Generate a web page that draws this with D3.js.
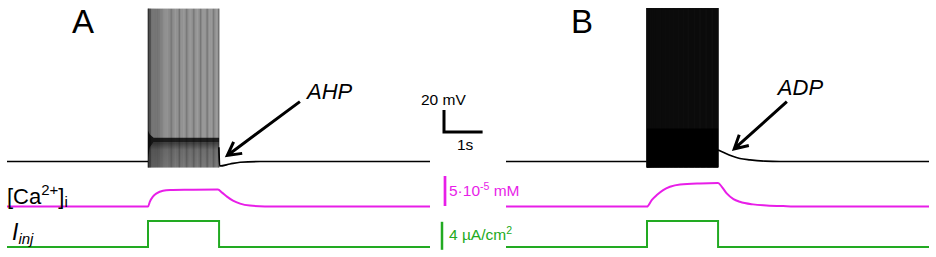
<!DOCTYPE html>
<html>
<head>
<meta charset="utf-8">
<script src="https://cdn.jsdelivr.net/npm/d3@7"></script>
<style>
  body { margin: 0; background: #fff; }
  svg { display: block; }
  text { font-family: "Liberation Sans", Arial, sans-serif; }
</style>
</head>
<body>
<div id="chart"></div>
<script>
// ---- data (time in s, voltage in mV, Ca in 1e-5 mM, current in uA/cm2) ----
const timeEnd = 11.25;
const stimWindow = [3.75, 5.64];
const iinjLevels = [0, 3.7];
const restMv = -65;

const spikeTimesA = [3.752, 3.761, 3.772, 3.785, 3.800, 3.817, 3.836, 3.857, 3.879, 3.902,
  3.926, 3.951, 3.977, 4.003, 4.030, 4.057, 4.085, 4.113, 4.141, 4.170, 4.199, 4.228, 4.257,
  4.287, 4.316, 4.346, 4.376, 4.406, 4.436, 4.466, 4.497, 4.527, 4.558, 4.588, 4.619, 4.650,
  4.680, 4.711, 4.742, 4.773, 4.804, 4.835, 4.866, 4.897, 4.928, 4.959, 4.990, 5.021, 5.052,
  5.084, 5.115, 5.146, 5.177, 5.209, 5.240, 5.271, 5.303, 5.334, 5.365, 5.397, 5.428, 5.460,
  5.491, 5.523, 5.554, 5.586, 5.617, 5.638];
const spikeTimesB = [3.751, 3.758, 3.767, 3.778, 3.790, 3.803, 3.817, 3.832, 3.848, 3.864,
  3.881, 3.898, 3.916, 3.934, 3.952, 3.971, 3.990, 4.009, 4.029, 4.048, 4.068, 4.088, 4.108,
  4.128, 4.149, 4.169, 4.190, 4.211, 4.232, 4.253, 4.274, 4.295, 4.316, 4.338, 4.359, 4.381,
  4.402, 4.424, 4.446, 4.467, 4.489, 4.511, 4.533, 4.555, 4.577, 4.599, 4.621, 4.643, 4.665,
  4.688, 4.710, 4.732, 4.754, 4.777, 4.799, 4.821, 4.844, 4.866, 4.889, 4.911, 4.934, 4.956,
  4.979, 5.001, 5.024, 5.047, 5.069, 5.092, 5.115, 5.137, 5.160, 5.183, 5.206, 5.228, 5.251,
  5.274, 5.297, 5.320, 5.343, 5.366, 5.388, 5.411, 5.434, 5.457, 5.480, 5.503, 5.526, 5.549,
  5.572, 5.595, 5.618, 5.638];
const spikePeakMv = [74, 74.5];
const spikeTroughMv = [-70.5, -70.5];

// interspike voltage band: [t, top, coreBottom]
const isiBandA = [[3.75, -37, -63], [3.80, -40.5, -52], [3.90, -43.4, -47.5], [5.64, -43.4, -47.5]];
const isiBandB = [[3.75, -35, -70.5], [5.64, -35, -70.5]];

const vRecoveryA = [[5.635, -52], [5.655, -69.1], [5.93, -67.3], [6.2, -65.7], [6.73, -65], [timeEnd, -65]];
const vRecoveryB = [[5.64, -54.5], [5.82, -57.3], [6.01, -60], [6.22, -62.3], [6.49, -63.6],
  [6.89, -64.7], [7.29, -65], [timeEnd, -65]];

const caA = [[0, 1], [3.75, 1], [3.80, 1.83], [3.88, 2.67], [3.99, 3.25], [4.15, 3.63], [4.34, 3.75],
  [4.73, 3.8], [5.61, 3.83], [5.72, 3.33], [5.85, 2.67], [6.01, 2.0], [6.2, 1.5], [6.46, 1.17],
  [6.86, 1.03], [7.53, 1], [timeEnd, 1]];
const caB = [[0, 1], [3.75, 1], [3.875, 2.08], [4.01, 2.92], [4.18, 3.75], [4.36, 4.3], [4.63, 4.7],
  [5.16, 4.87], [5.64, 4.92], [5.74, 4.3], [5.87, 3.2], [6.05, 2.25], [6.22, 1.8], [6.57, 1.37],
  [6.93, 1.2], [7.37, 1.08], [7.82, 1], [timeEnd, 1]];

const panelNames = ['A', 'B'];
const eventNames = ['AHP', 'ADP'];
// arrows: [tailT, tailV, tipT, tipV]
const eventArrows = [[7.79, -10.6, 5.86, -59.5], [7.47, -10.6, 6.07, -53.5]];
const eventLabelPos = [[7.98, -8.2], [7.23, -4.5]];

const scaleBarV = 20, scaleBarT = 1, scaleBarCa = 5, scaleBarI = 4;

// ---- layout ----
const width = 936, height = 257;
const panelRanges = [[7, 430], [506, 929]];
const magenta = '#e81ee8', green = '#22aa22';

const svg = d3.select('#chart').append('svg')
  .attr('width', width).attr('height', height);

const defs = svg.append('defs');
const grad = defs.append('linearGradient').attr('id', 'fade')
  .attr('x1', 0).attr('y1', 0).attr('x2', 0).attr('y2', 1);
grad.append('stop').attr('offset', '0%').attr('stop-color', '#000').attr('stop-opacity', 0.6);
grad.append('stop').attr('offset', '30%').attr('stop-color', '#000').attr('stop-opacity', 0.28);
grad.append('stop').attr('offset', '100%').attr('stop-color', '#000').attr('stop-opacity', 0.2);

const yV = d3.scaleLinear().domain([restMv, 74]).range([161.5, 8.6]);
const yCa = d3.scaleLinear().domain([1, 6]).range([206.6, 176.6]);
const yI = d3.scaleLinear().domain([0, 4]).range([247, 219]);

panelNames.forEach((name, p) => {
  const x = d3.scaleLinear().domain([0, timeEnd]).range(panelRanges[p]);
  const g = svg.append('g');
  const spikes = p === 0 ? spikeTimesA : spikeTimesB;
  const band = p === 0 ? isiBandA : isiBandB;
  const recovery = p === 0 ? vRecoveryA : vRecoveryB;
  const ca = p === 0 ? caA : caB;

  // resting voltage before stimulus
  g.append('path')
    .attr('d', d3.line()([[x(0), yV(restMv)], [x(stimWindow[0]), yV(restMv)]]))
    .attr('stroke', '#000').attr('stroke-width', 1.7).attr('fill', 'none');

  // spikes
  g.selectAll('line.spike').data(spikes).enter().append('line')
    .attr('class', 'spike')
    .attr('x1', d => x(d)).attr('x2', d => x(d))
    .attr('y1', yV(spikeTroughMv[p])).attr('y2', yV(spikePeakMv[p]))
    .attr('stroke', p === 0 ? '#000' : '#0c0c0c')
    .attr('stroke-width', p === 0 ? 0.55 : 1.6);

  // burst: interspike band
  if (p === 0) {
    g.append('path')
      .attr('d', d3.area().x(d => x(d[0])).y0(d => yV(d[2])).y1(yV(spikeTroughMv[p]))(band))
      .attr('fill', 'url(#fade)');
    g.append('path')
      .attr('d', d3.area().x(d => x(d[0])).y0(d => yV(d[1])).y1(d => yV(d[2]))(band))
      .attr('fill', '#000').attr('fill-opacity', 0.8);
  } else {
    g.append('path')
      .attr('d', d3.area().x(d => x(d[0])).y0(d => yV(d[1])).y1(d => yV(d[2]))(band))
      .attr('fill', '#000');
  }

  // after-burst potential
  g.append('path')
    .attr('d', d3.line().x(d => x(d[0])).y(d => yV(d[1])).curve(d3.curveMonotoneX)(recovery))
    .attr('stroke', '#000').attr('stroke-width', 1.7).attr('fill', 'none');

  // calcium
  g.append('path')
    .attr('d', d3.line().x(d => x(d[0])).y(d => yCa(d[1])).curve(d3.curveMonotoneX)(ca))
    .attr('stroke', magenta).attr('stroke-width', 2).attr('fill', 'none');

  // injected current
  const iPts = [[0, iinjLevels[0]], [stimWindow[0], iinjLevels[0]], [stimWindow[0], iinjLevels[1]],
    [stimWindow[1], iinjLevels[1]], [stimWindow[1], iinjLevels[0]], [timeEnd, iinjLevels[0]]];
  g.append('path')
    .attr('d', d3.line().x(d => x(d[0])).y(d => yI(d[1]))(iPts))
    .attr('stroke', green).attr('stroke-width', 2).attr('fill', 'none');

  // panel letter
  g.append('text').attr('x', x(0) + 65).attr('y', 33)
    .attr('font-size', 33).text(name);

  // event arrow + label
  const a = eventArrows[p];
  const x0 = x(a[0]), y0 = yV(a[1]), x1 = x(a[2]), y1 = yV(a[3]);
  const ang = Math.atan2(y1 - y0, x1 - x0);
  const wing = 15, spread = 0.5;
  g.append('path')
    .attr('d', `M${x0},${y0}L${x1},${y1}` +
      `M${x1 - wing * Math.cos(ang - spread)},${y1 - wing * Math.sin(ang - spread)}L${x1},${y1}` +
      `L${x1 - wing * Math.cos(ang + spread)},${y1 - wing * Math.sin(ang + spread)}`)
    .attr('stroke', '#000').attr('stroke-width', 3).attr('fill', 'none');
  g.append('text').attr('x', x(eventLabelPos[p][0])).attr('y', yV(eventLabelPos[p][1]))
    .attr('font-size', 22).attr('font-style', 'italic').text(eventNames[p]);
});

// ---- trace labels ----
const caLabel = svg.append('text').attr('x', 7).attr('y', 204).attr('font-size', 22);
caLabel.append('tspan').text('[Ca');
caLabel.append('tspan').attr('font-size', 15).attr('dy', -9).text('2+');
caLabel.append('tspan').attr('dy', 9).text(']');
caLabel.append('tspan').attr('font-size', 15).attr('dy', 3).text('i');

const iLabel = svg.append('text').attr('x', 12).attr('y', 240).attr('font-size', 23).attr('font-style', 'italic');
iLabel.append('tspan').text('I');
iLabel.append('tspan').attr('font-size', 15).attr('dy', 4).text('inj');

// ---- scale bars ----
const xScaleRef = d3.scaleLinear().domain([0, timeEnd]).range(panelRanges[0]);
const barX = 444;
const barLen = xScaleRef(scaleBarT) - xScaleRef(0);
const vBottom = -38.2;
svg.append('path')
  .attr('d', d3.line()([[barX, yV(vBottom + scaleBarV)], [barX, yV(vBottom)], [barX + barLen + 1, yV(vBottom)]]))
  .attr('stroke', '#000').attr('stroke-width', 3).attr('fill', 'none');
svg.append('text').attr('x', 421).attr('y', 105).attr('font-size', 15.5).text('20 mV');
svg.append('text').attr('x', 457).attr('y', 150).attr('font-size', 15.5).text('1s');

svg.append('line')
  .attr('x1', 445).attr('x2', 445).attr('y1', yCa(1.1)).attr('y2', yCa(1.1 + scaleBarCa))
  .attr('stroke', magenta).attr('stroke-width', 2.7);
const caText = svg.append('text').attr('x', 449).attr('y', 196).attr('font-size', 15.5).attr('fill', magenta);
caText.append('tspan').text('5\u00b710');
caText.append('tspan').attr('font-size', 10.5).attr('dy', -6).text('-5');
caText.append('tspan').attr('dy', 6).text(' mM');

svg.append('line')
  .attr('x1', 442).attr('x2', 442).attr('y1', yI(-0.4)).attr('y2', yI(-0.4 + scaleBarI))
  .attr('stroke', green).attr('stroke-width', 2.5);
const iText = svg.append('text').attr('x', 449).attr('y', 240).attr('font-size', 15.5).attr('fill', green);
iText.append('tspan').text('4 \u00b5A/cm');
iText.append('tspan').attr('font-size', 10.5).attr('dy', -6).text('2');
</script>
</body>
</html>
